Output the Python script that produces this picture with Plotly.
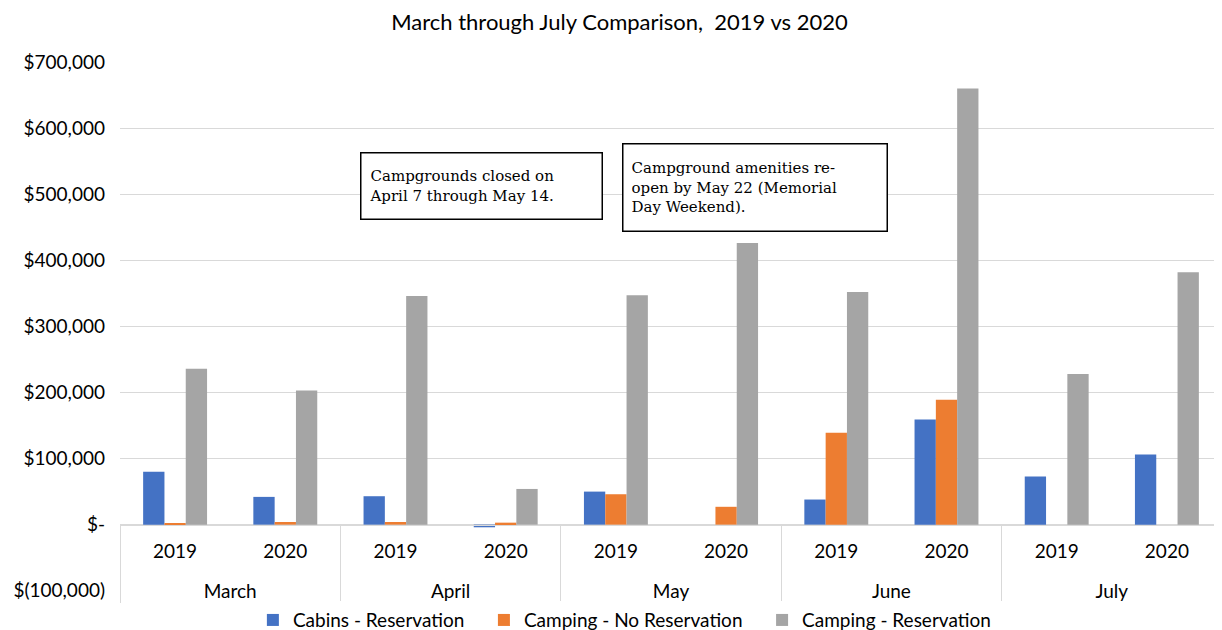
import plotly.graph_objects as go

months = ["March", "March", "April", "April", "May", "May", "June", "June", "July", "July"]
years = ["2019", "2020", "2019", "2020", "2019", "2020", "2019", "2020", "2019", "2020"]

cabins_res = [80000, 42000, 43000, -4000, 50000, 0, 38000, 159000, 73000, 106000]
camping_no_res = [1500, 4000, 4000, 3000, 46000, 27000, 139000, 189000, 0, 0]
camping_res = [236000, 203000, 346000, 54000, 347000, 426000, 352000, 660000, 228000, 382000]

series_names = ["Cabins - Reservation", "Camping - No Reservation", "Camping - Reservation"]
colors = ["#4472C4", "#ED7D31", "#A5A5A5"]

tick_vals = [-100000, 0, 100000, 200000, 300000, 400000, 500000, 600000, 700000]
tick_text = ["$(100,000)", "$-", "$100,000", "$200,000", "$300,000", "$400,000",
             "$500,000", "$600,000", "$700,000"]

FONT = "Lato"
PAD = "&nbsp;" * 3

# month level sits one line lower than plotly's default spacing
month_labels = ["<br>" + m for m in months]

fig = go.Figure()
for name, vals, col in zip(series_names, [cabins_res, camping_no_res, camping_res], colors):
    fig.add_trace(go.Bar(x=[month_labels, years], y=vals, name=name + PAD,
                         marker=dict(color=col, line=dict(width=0))))

# the page body has an 8px margin, so the figure is drawn 8px smaller than the window
fig.update_layout(
    width=1214, height=622,
    margin=dict(l=112, r=0, t=54, b=39, autoexpand=False),
    paper_bgcolor="white", plot_bgcolor="white",
    barmode="group", bargap=0.42, bargroupgap=0,
    font=dict(family=FONT, size=19, color="#000000"),
    title=dict(text="March through July Comparison,&nbsp; 2019 vs 2020",
               x=0.5037, xanchor="center", y=0.9767, yanchor="middle", automargin=False,
               font=dict(family=FONT, size=22, color="#000000")),
    legend=dict(orientation="h", x=0.4645, xanchor="center", y=-0.055, yanchor="middle",
                font=dict(family=FONT, size=19, color="#000000"), itemwidth=30),
    xaxis=dict(type="multicategory", anchor="free", position=0.125, automargin=False,
               showline=True, linecolor="#D9D9D9", linewidth=1,
               showdividers=True, dividercolor="#D9D9D9", dividerwidth=1,
               ticks="", ticklabelstandoff=9,
               showgrid=False, tickfont=dict(family=FONT, size=19, color="#000000")),
    yaxis=dict(range=[-100400, 700000], tickvals=tick_vals, ticktext=tick_text,
               automargin=False,
               showgrid=True, gridcolor="#D9D9D9", gridwidth=1,
               zeroline=True, zerolinecolor="#D9D9D9", zerolinewidth=1,
               showline=False, ticks="", ticklabelstandoff=14,
               tickfont=dict(family=FONT, size=19, color="#000000")),
    annotations=[
        dict(text="Campgrounds closed on<br>April 7 through May 14.",
             xref="paper", yref="paper", x=0.328, y=0.7656,
             xanchor="center", yanchor="middle", showarrow=False,
             align="left", valign="middle", width=224, height=49,
             bordercolor="#000000", borderwidth=1.5, borderpad=8, bgcolor="white",
             font=dict(family="DejaVu Serif", size=15, color="#000000")),
        dict(text="Campground amenities re-<br>open by May 22 (Memorial<br>Day Weekend).",
             xref="paper", yref="paper", x=0.576, y=0.7628,
             xanchor="center", yanchor="middle", showarrow=False,
             align="left", valign="middle", width=247, height=70,
             bordercolor="#000000", borderwidth=1.5, borderpad=8, bgcolor="white",
             font=dict(family="DejaVu Serif", size=15, color="#000000")),
    ],
)

fig.write_html("out.html")
